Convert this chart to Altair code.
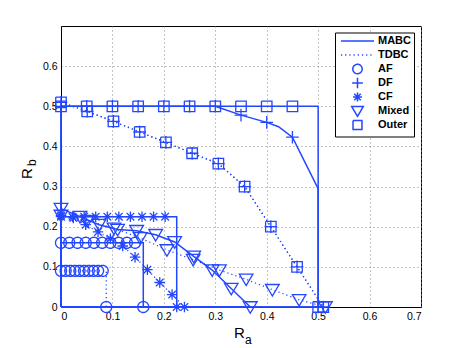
import altair as alt
import pandas as pd

BLUE = "#2346ff"

X_TICKS = [0, 0.1, 0.2, 0.3, 0.4, 0.5, 0.6, 0.7]
Y_TICKS = [0, 0.1, 0.2, 0.3, 0.4, 0.5, 0.6]
LEGEND_ORDER = ["MABC", "TDBC", "AF", "DF", "CF", "Mixed", "Outer"]

# ---- AF ----
MABC_AF_X = [0, 0.016, 0.032, 0.048, 0.064, 0.08, 0.096, 0.112, 0.128, 0.144, 0.16, 0.16]
MABC_AF_Y = [0.16, 0.16, 0.16, 0.16, 0.16, 0.16, 0.16, 0.16, 0.16, 0.16, 0.16, 0]
MABC_AF_M = [1, 1, 1, 1, 1, 1, 1, 1, 1, 1, 0, 1]

TDBC_AF_X = [0, 0.009, 0.018, 0.027, 0.036, 0.045, 0.054, 0.063, 0.072, 0.081, 0.088, 0.088]
TDBC_AF_Y = [0.09, 0.09, 0.09, 0.09, 0.09, 0.09, 0.09, 0.09, 0.09, 0.09, 0.09, 0]
TDBC_AF_M = [1, 1, 1, 1, 1, 1, 1, 1, 1, 1, 0, 1]

# ---- DF ----
MABC_DF_X = [0, 0.05, 0.1, 0.15, 0.2, 0.25, 0.3, 0.35, 0.4, 0.423, 0.45, 0.5, 0.5]
MABC_DF_Y = [0.5, 0.5, 0.5, 0.5, 0.5, 0.5, 0.5, 0.478, 0.46, 0.449, 0.423, 0.295, 0]
MABC_DF_M = [1, 1, 1, 1, 1, 1, 1, 1, 1, 0, 1, 0, 1]

TDBC_DF_X = [0, 0.051, 0.102, 0.153, 0.204, 0.255, 0.306, 0.357, 0.408, 0.459, 0.51]
TDBC_DF_Y = [0.51, 0.4875, 0.4625, 0.436, 0.41, 0.383, 0.357, 0.30, 0.2, 0.1, 0]
TDBC_DF_M = [1, 1, 1, 1, 1, 1, 1, 1, 1, 1, 1]

# ---- CF ----
MABC_CF_X = [0, 0.0225, 0.045, 0.0675, 0.09, 0.1125, 0.135, 0.1575, 0.18, 0.2025, 0.225, 0.225]
MABC_CF_Y = [0.225, 0.225, 0.225, 0.225, 0.225, 0.225, 0.225, 0.225, 0.225, 0.225, 0.225, 0]
MABC_CF_M = [1, 1, 1, 1, 1, 1, 1, 1, 1, 1, 0, 1]

TDBC_CF_X = [0, 0.024, 0.048, 0.072, 0.096, 0.12, 0.144, 0.168, 0.192, 0.216, 0.24]
TDBC_CF_Y = [0.228, 0.222, 0.205, 0.187, 0.17, 0.152, 0.124, 0.093, 0.061, 0.031, 0]
TDBC_CF_M = [1, 1, 1, 1, 1, 1, 1, 1, 1, 1, 1]

# ---- Mixed ----
MABC_MIX_X = [0, 0.037, 0.074, 0.11, 0.147, 0.184, 0.221, 0.258, 0.294, 0.331, 0.368]
MABC_MIX_Y = [0.245, 0.225, 0.205, 0.193, 0.19, 0.18, 0.162, 0.126, 0.092, 0.046, 0]
MABC_MIX_M = [1, 1, 1, 1, 1, 1, 1, 1, 1, 1, 1]

TDBC_MIX_X = [0, 0.051, 0.103, 0.154, 0.206, 0.257, 0.308, 0.36, 0.411, 0.463, 0.514]
TDBC_MIX_Y = [0.228, 0.215, 0.196, 0.172, 0.142, 0.118, 0.092, 0.069, 0.043, 0.018, 0]
TDBC_MIX_M = [1, 1, 1, 1, 1, 1, 1, 1, 1, 1, 1]

# ---- Outer ----
MABC_OUT_X = [0, 0.05, 0.1, 0.15, 0.2, 0.25, 0.3, 0.35, 0.4, 0.45, 0.5, 0.5]
MABC_OUT_Y = [0.5, 0.5, 0.5, 0.5, 0.5, 0.5, 0.5, 0.5, 0.5, 0.5, 0.5, 0]
MABC_OUT_M = [1, 1, 1, 1, 1, 1, 1, 1, 1, 1, 0, 1]

TDBC_OUT_X = [0, 0.051, 0.102, 0.153, 0.204, 0.255, 0.306, 0.357, 0.408, 0.459, 0.51]
TDBC_OUT_Y = [0.51, 0.4875, 0.4625, 0.436, 0.41, 0.383, 0.357, 0.30, 0.2, 0.1, 0]
TDBC_OUT_M = [1, 1, 1, 1, 1, 1, 1, 1, 1, 1, 1]

SERIES = [
    ("MABC", "AF", MABC_AF_X, MABC_AF_Y, MABC_AF_M),
    ("TDBC", "AF", TDBC_AF_X, TDBC_AF_Y, TDBC_AF_M),
    ("MABC", "DF", MABC_DF_X, MABC_DF_Y, MABC_DF_M),
    ("TDBC", "DF", TDBC_DF_X, TDBC_DF_Y, TDBC_DF_M),
    ("MABC", "CF", MABC_CF_X, MABC_CF_Y, MABC_CF_M),
    ("TDBC", "CF", TDBC_CF_X, TDBC_CF_Y, TDBC_CF_M),
    ("MABC", "Mixed", MABC_MIX_X, MABC_MIX_Y, MABC_MIX_M),
    ("TDBC", "Mixed", TDBC_MIX_X, TDBC_MIX_Y, TDBC_MIX_M),
    ("MABC", "Outer", MABC_OUT_X, MABC_OUT_Y, MABC_OUT_M),
    ("TDBC", "Outer", TDBC_OUT_X, TDBC_OUT_Y, TDBC_OUT_M),
]

line_rows, pt_rows = [], []
for proto, scheme, xs, ys, ms in SERIES:
    pts = list(zip(xs, ys))
    path = [(0, 0)] + pts + [(0, 0)] if proto == "MABC" else pts
    for i, (x, y) in enumerate(path):
        line_rows.append(dict(x=x, y=y, series=f"{proto}-{scheme}", key=proto, idx=i))
    for (x, y), m in zip(pts, ms):
        if m:
            pt_rows.append(dict(x=x, y=y, key=scheme))
line_df = pd.DataFrame(line_rows)
pt_df = pd.DataFrame(pt_rows)

# every symbol path carries the same vertical extent so legend rows are even
EXT = "M0,-1.22M0,1.22"
SHAPES = [
    "M-3.7,0H3.7" + EXT,
    "M-3.7,0H3.7" + EXT,
    "M1.05,0A1.05,1.05,0,1,1,-1.05,0A1.05,1.05,0,1,1,1.05,0Z" + EXT,
    "M0,-1.2V1.2M-1.2,0H1.2" + EXT,
    "M0,-1V1M-1,0H1M-0.72,-0.72L0.72,0.72M-0.72,0.72L0.72,-0.72" + EXT,
    "M-1.3,-1L1.3,-1L0,1.2Z" + EXT,
    "M-1,-1H1V1H-1Z" + EXT,
]
DASHES = [[1, 0], [1.2, 3], [1, 0], [1, 0], [1, 0], [1, 0], [1, 0]]

shape_scale = alt.Scale(domain=LEGEND_ORDER, range=SHAPES)
dash_scale = alt.Scale(domain=LEGEND_ORDER, range=DASHES)

legend = alt.Legend(
    orient="none", legendX=274, legendY=6.5, title=None,
    strokeColor="black", fillColor="white", padding=3,
    symbolOffset=14, labelOffset=15, rowPadding=-6.2,
    labelFont="Liberation Sans", labelFontSize=11, labelFontWeight="bold",
    labelColor="black", symbolSize=80, symbolStrokeWidth=1.5,
    symbolStrokeColor=BLUE, symbolFillColor="transparent",
)

xenc = alt.X("x:Q", scale=alt.Scale(domain=[0, 0.7], nice=False, zero=False),
             axis=alt.Axis(values=X_TICKS, format="~g", title=None))
yenc = alt.Y("y:Q", scale=alt.Scale(domain=[0, 0.7], nice=False, zero=False),
             axis=alt.Axis(values=Y_TICKS, format="~g", title=None))

lines_mabc = alt.Chart(line_df).transform_filter(alt.datum.key == "MABC").mark_line(
    color=BLUE, strokeWidth=1.5).encode(x=xenc, y=yenc, detail="series:N", order="idx:Q")
lines_tdbc = alt.Chart(line_df).transform_filter(alt.datum.key == "TDBC").mark_line(
    color=BLUE, strokeWidth=1.3, strokeDash=[1.2, 3]).encode(
    x=xenc, y=yenc, detail="series:N", order="idx:Q")

points = alt.Chart(pt_df).mark_point(filled=False, color=BLUE, strokeWidth=1.3,
                                     size=110, opacity=1).encode(
    x=xenc, y=yenc,
    shape=alt.Shape("key:N", scale=shape_scale, legend=legend),
    strokeDash=alt.StrokeDash("key:N", scale=dash_scale, legend=legend),
)

def label(txt, px, py, size, angle=0):
    return alt.Chart(pd.DataFrame({"t": [txt]})).mark_text(
        font="Liberation Sans", fontSize=size, color="black", align="left",
        baseline="alphabetic", angle=angle,
    ).encode(x=alt.value(px), y=alt.value(py), text="t:N")

texts = [
    label("R", 173, 311.5, 15),
    label("a", 184, 318, 12),
    label("R", -29, 153, 15, 270),
    label("b", -25, 140, 12, 270),
]

chart = alt.layer(lines_mabc, lines_tdbc, points, *texts).properties(
    width=360, height=281,
    autosize=alt.AutoSizeParams(type="none"),
    padding={"left": 53, "top": 18, "right": 30, "bottom": 40},
).configure_view(stroke="black", strokeWidth=1).configure_axis(
    labelFont="Liberation Sans", labelFontSize=10.5, labelColor="black",
    domainColor="black", ticks=False, labelPadding=4,
    gridDash=[1, 3], gridColor="#888", gridWidth=1,
)

chart.save("out.html", embed_options={"renderer": "svg", "actions": False})
